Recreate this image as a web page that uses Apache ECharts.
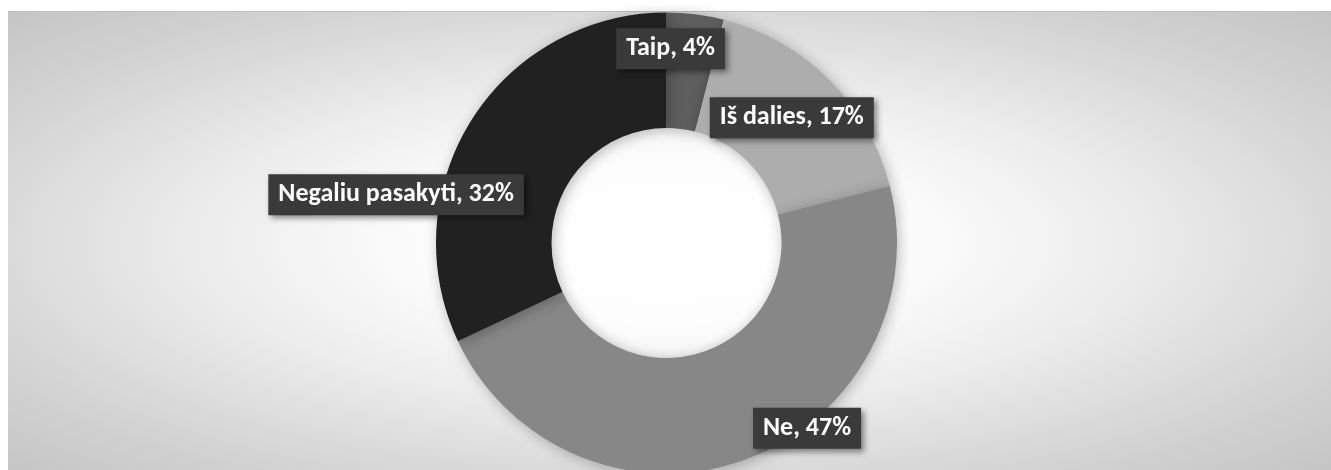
<!DOCTYPE html>
<html>
<head>
<meta charset="utf-8">
<script src="https://cdn.jsdelivr.net/npm/echarts@6/dist/echarts.min.js"></script>
<style>
  html, body { margin: 0; padding: 0; background: #ffffff; }
  #frame {
    position: absolute; left: 8px; top: 11px; width: 1323px; height: 459px;
    border-top: 1px solid #bfbfbf;
    background: radial-gradient(ellipse farthest-corner at 658px 231px,
      #ffffff 0%, #fdfdfd 25%, #ececec 50%, #d6d6d6 75%, #c4c4c4 100%);
  }
  #chart { position: absolute; left: 0; top: 0; width: 1331px; height: 470px; }
</style>
</head>
<body>
<div id="frame"></div>
<div id="chart"></div>
<script>
// Survey answers and their shares (%)
const categories = ['Taip', 'Iš dalies', 'Ne', 'Negaliu pasakyti'];
const shares = [4, 17, 47, 32];
const sliceColors = ['#5e5e5e', '#adadad', '#878787', '#212121'];
// nudges of each callout box from the middle of its ring segment
const labelOffsets = [[-18, -20], [1, -1], [81, 20], [-122, 46]];

const chart = echarts.init(document.getElementById('chart'), null, { renderer: 'canvas' });

const data = categories.map((name, i) => ({
  name: name,
  value: shares[i],
  itemStyle: { color: sliceColors[i] },
  label: { offset: labelOffsets[i] }
}));

chart.setOption({
  backgroundColor: 'transparent',
  animation: false,
  series: [{
    type: 'pie',
    center: [666.5, 243],
    radius: [115, 230.5],
    startAngle: 90,
    clockwise: true,
    avoidLabelOverlap: false,
    silent: true,
    itemStyle: {
      borderWidth: 0,
      shadowBlur: 14,
      shadowColor: 'rgba(0,0,0,0.28)',
      shadowOffsetX: 2,
      shadowOffsetY: 2
    },
    label: {
      show: true,
      position: 'inside',
      formatter: p => p.name + ', ' + p.value + '%',
      color: '#ffffff',
      fontFamily: 'Carlito, Lato, "Open Sans", sans-serif',
      fontWeight: 'bold',
      fontSize: 26,
      lineHeight: 27,
      backgroundColor: '#3a3a3a',
      padding: [7, 10, 7, 10],
      shadowColor: 'rgba(0,0,0,0.45)',
      shadowBlur: 6,
      shadowOffsetX: 3,
      shadowOffsetY: 3
    },
    labelLine: { show: false },
    data: data
  }]
});
</script>
</body>
</html>
